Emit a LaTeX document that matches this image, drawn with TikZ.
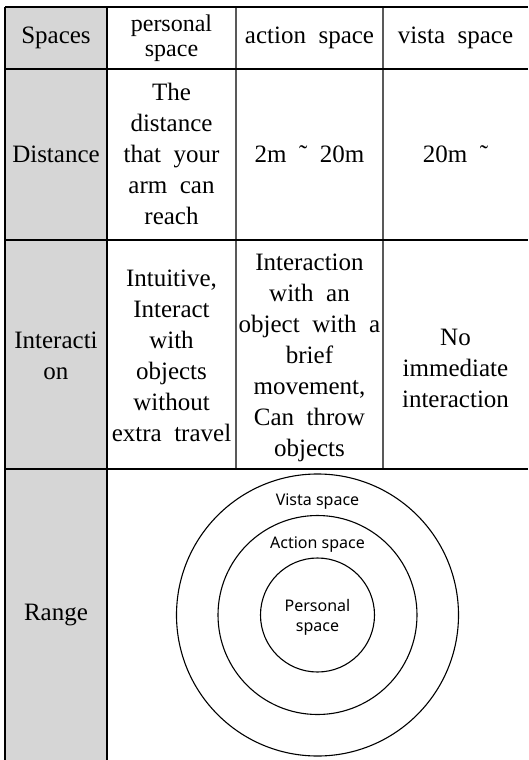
\documentclass[tikz,border=0pt]{standalone}
\usepackage{fontspec}
\setmainfont{Liberation Serif}[WordSpace=2]
\newfontfamily\ringfont{Noto Sans}
\usepackage{tikz}
\usetikzlibrary{positioning}
\definecolor{headgray}{RGB}{214,214,214}
\newcommand{\cellfont}{\fontsize{25}{31}\selectfont}

\begin{document}
\begin{tikzpicture}
  [x=1pt,y=-1pt,every node/.style={align=center,inner sep=0pt,font=\cellfont},
   rule/.style={line width=1.1pt,black},
   inner/.style={line width=1.3pt,black!65},
   ring/.style={circle,draw=black,line width=1.1pt,minimum size=#1},
   ringtext/.style={font=\ringfont\fontsize{16}{20}\selectfont}]
  \useasboundingbox (0,0) rectangle (528,760);
  \fill[headgray] (5,7) rectangle (107,760);

  \draw[inner] (236,7) -- (236,469);
  \draw[inner] (383,7) -- (383,469);
  \draw[rule] (5,7) -- (528,7);
  \draw[rule] (5,69) -- (528,69);
  \draw[rule] (5,240) -- (528,240);
  \draw[rule] (5,469) -- (528,469);
  \draw[rule,line width=1.6pt] (5,7) -- (5,760);
  \draw[rule] (107,7) -- (107,760);

  \node (h1) at (56,38) {Spaces};
  \node[font=\fontsize{24}{24.5}\selectfont] (h2) at (171.5,38) {personal\\space};
  \node (h3) at (309.5,38) {action space};
  \node (h4) at (455.5,38) {vista space};

  \node (d1) at (56,154) {Distance};
  \node (d2) at (171.5,154) {The\\distance\\that your\\arm can\\reach};
  \node (d3) at (309.5,154) {2m ˜ 20m};
  \node (d4) at (455.5,154) {20m ˜};

  \node (i1) at (56,356) {Interacti\\on};
  \node (i2) at (171.5,356) {Intuitive,\\Interact\\with\\objects\\without\\extra travel};
  \node (i3) at (309.5,358) {Interaction\\with an\\object with a\\brief\\movement,\\Can throw\\objects};
  \node (i4) at (455.5,368) {No\\immediate\\interaction};

  \node (r1) at (56,615) {Range};
  \node[ring=282pt] (vista) at (317.5,615) {};
  \node[ring=199pt] (action) at (317.5,615) {};
  \node[ring=114pt] (personal) at (317.5,615) {};
  \node[ringtext] (vl) at (317.5,502) {Vista space};
  \node[ringtext] (al) at (317.5,545) {Action space};
  \node[ringtext] (pl) at (317.5,617) {Personal\\space};
\end{tikzpicture}
\end{document}
